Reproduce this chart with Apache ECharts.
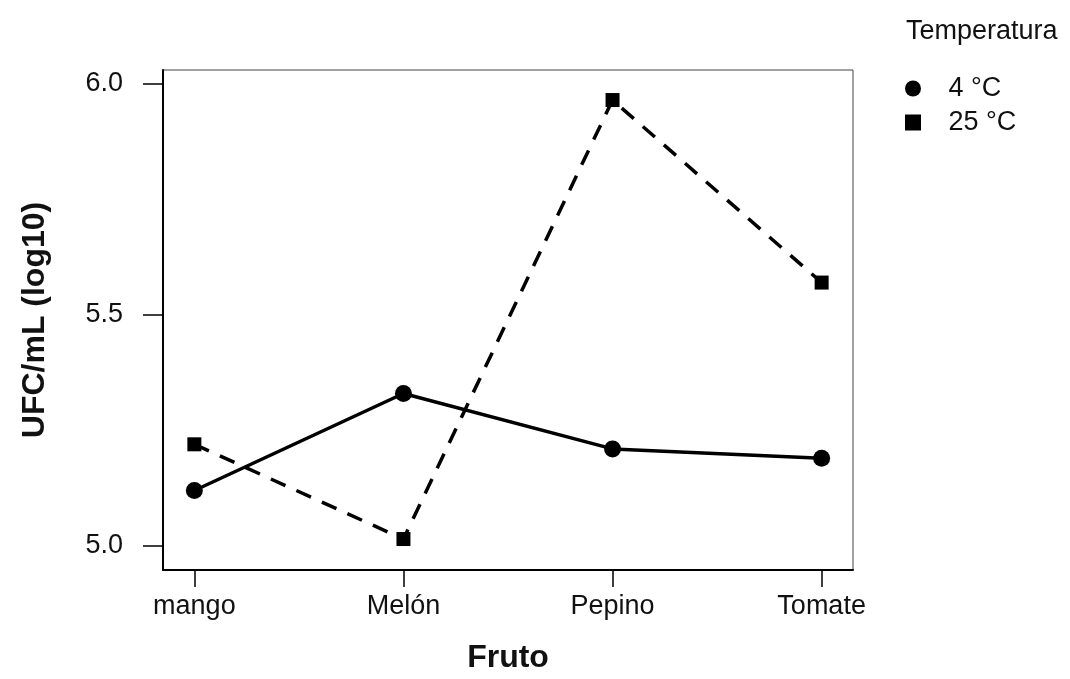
<!DOCTYPE html>
<html>
<head>
<meta charset="utf-8">
<script src="https://cdn.jsdelivr.net/npm/echarts@6/dist/echarts.min.js"></script>
<style>
  html, body { margin: 0; padding: 0; background: #fff; }
  #chart { width: 1070px; height: 679px; }
</style>
</head>
<body>
<div id="chart"></div>
<script>
// Fruit categories along the x axis
const frutos = ['mango', 'Melón', 'Pepino', 'Tomate'];
// Mean counts, UFC/mL (log10), per storage temperature
const temp4 = [5.12, 5.33, 5.21, 5.19];
const temp25 = [5.22, 5.015, 5.965, 5.57];
// Y axis tick values
const yTicks = [5.0, 5.5, 6.0];
const xTicks = [0, 1, 2, 3];

const font = 'Liberation Sans, Arial, Helvetica, sans-serif';
const toPoints = vals => vals.map((v, i) => [i, v]);

const chart = echarts.init(document.getElementById('chart'));
chart.setOption({
  backgroundColor: '#ffffff',
  animation: false,
  textStyle: { fontFamily: font, color: '#111' },
  title: {
    text: 'Temperatura',
    left: 901,
    top: 13,
    textStyle: { fontFamily: font, fontSize: 27, fontWeight: 'normal', color: '#111' }
  },
  legend: {
    left: 900,
    top: 70,
    orient: 'vertical',
    itemWidth: 16,
    itemHeight: 16,
    itemGap: 7,
    formatter: name => '   ' + name,
    textStyle: { fontFamily: font, fontSize: 27, color: '#111' },
    data: [
      { name: '4 °C', icon: 'circle' },
      { name: '25 °C', icon: 'rect' }
    ]
  },
  grid: {
    left: 163, top: 70, right: 217, bottom: 107,
    show: true, borderColor: '#444', borderWidth: 1, backgroundColor: '#fff'
  },
  xAxis: {
    type: 'value',
    min: -0.15,
    max: 3.15,
    name: 'Fruto',
    nameLocation: 'middle',
    nameGap: 72,
    nameTextStyle: { fontFamily: font, fontSize: 32, fontWeight: 'bold', color: '#111' },
    splitLine: { show: false },
    axisLine: { show: true, onZero: false, lineStyle: { color: '#000', width: 2 } },
    axisTick: { show: true, length: 17, customValues: xTicks, lineStyle: { color: '#000', width: 1.5 } },
    axisLabel: {
      customValues: xTicks,
      margin: 23,
      fontSize: 27,
      fontFamily: font,
      color: '#111',
      formatter: v => frutos[Math.round(v)]
    }
  },
  yAxis: {
    type: 'value',
    min: 4.948,
    max: 6.03,
    name: 'UFC/mL (log10)',
    nameLocation: 'middle',
    nameRotate: 90,
    nameGap: 112,
    nameTextStyle: { fontFamily: font, fontSize: 32, fontWeight: 'bold', color: '#111' },
    splitLine: { show: false },
    axisLine: { show: true, onZero: false, lineStyle: { color: '#000', width: 2 } },
    axisTick: { show: true, length: 20, customValues: yTicks, lineStyle: { color: '#000', width: 1.5 } },
    axisLabel: {
      customValues: yTicks,
      margin: 40,
      fontSize: 27,
      fontFamily: font,
      color: '#111',
      formatter: v => v.toFixed(1)
    }
  },
  series: [
    {
      name: '4 °C',
      type: 'line',
      data: toPoints(temp4),
      symbol: 'circle',
      symbolSize: 17,
      itemStyle: { color: '#000' },
      lineStyle: { color: '#000', width: 3.5, type: 'solid' },
      z: 3
    },
    {
      name: '25 °C',
      type: 'line',
      data: toPoints(temp25),
      symbol: 'rect',
      symbolSize: 14,
      itemStyle: { color: '#000' },
      lineStyle: { color: '#000', width: 3.5, type: [16, 12] },
      z: 2
    }
  ]
});
</script>
</body>
</html>
